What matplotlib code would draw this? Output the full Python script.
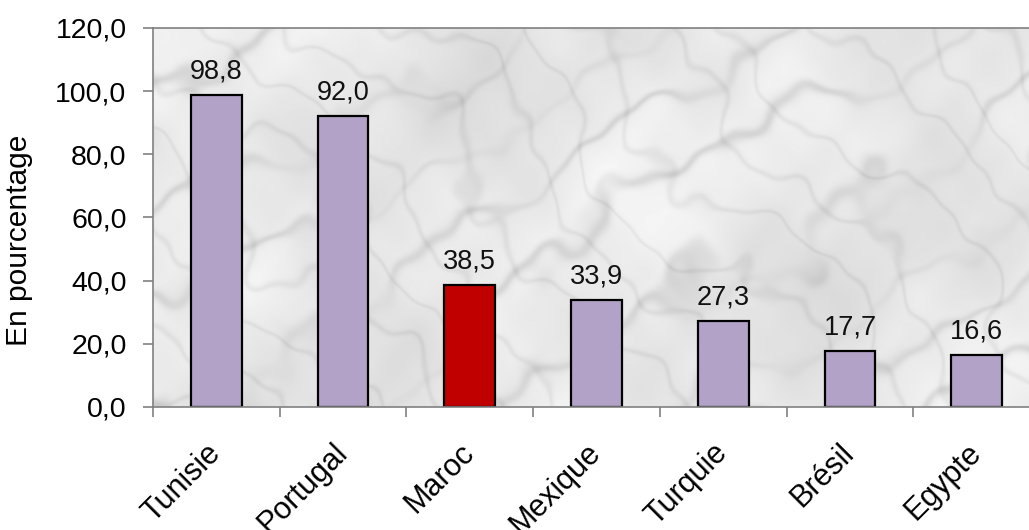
"""Bar chart of percentages per country on a marble-style plot background."""

import matplotlib
matplotlib.use("Agg")
import matplotlib.pyplot as plt
import numpy as np
from matplotlib.ticker import FuncFormatter

# Data
countries = ["Tunisie", "Portugal", "Maroc", "Mexique", "Turquie", "Brésil", "Egypte"]
values = [98.8, 92.0, 38.5, 33.9, 27.3, 17.7, 16.6]
highlight = "Maroc"

BAR_COLOR = "#b3a2c7"
HIGHLIGHT_COLOR = "#c00000"
SPINE_COLOR = "#808080"

plt.rcParams["font.family"] = ["Liberation Sans", "DejaVu Sans"]


def fr_number(v, _pos=None):
    return f"{v:.1f}".replace(".", ",")


def marble_texture(h, w):
    """Deterministic grey marble-like pattern built from layered sines."""
    yy, xx = np.mgrid[0:h, 0:w].astype(float)
    x = xx / w * 9.0
    y = yy / h * 4.0
    waves = [(1.3, 0.7, 0.0, 0.5), (0.6, 2.1, 1.3, 0.4), (2.9, -1.4, 2.2, 0.3),
             (4.7, 3.1, 0.7, 0.2), (-3.8, 5.2, 4.1, 0.15), (7.3, 6.1, 2.9, 0.1),
             (11.2, -8.3, 1.1, 0.07), (13.7, 9.9, 5.3, 0.05)]
    clouds = sum(a * np.sin(fx * x + fy * y + p) for fx, fy, p, a in waves)
    # streaky veins running lower-left to upper-right
    phase = 1.9 * (x + 1.6 * y) + 1.5 * clouds
    veins = np.exp(-(np.sin(phase) ** 2) / 0.06)
    phase2 = 3.7 * (x - 0.9 * y) + 2.0 * clouds
    veins2 = np.exp(-(np.sin(phase2) ** 2) / 0.03)
    img = (0.91 - 0.10 * veins * (0.6 + 0.4 * np.sin(2.3 * clouds))
           - 0.05 * veins2 + 0.04 * clouds)
    return np.clip(img, 0, 1)


fig = plt.figure(figsize=(10.29, 5.30), dpi=100)
# plot area runs slightly past the right edge of the figure
ax = fig.add_axes([0.1487, 0.2321, 0.862, 0.7151])

x = np.arange(len(countries))
colors = [HIGHLIGHT_COLOR if c == highlight else BAR_COLOR for c in countries]
ax.bar(x, values, width=0.4, color=colors, edgecolor="black", linewidth=1.6, zorder=3)

ax.set_xlim(-0.5, len(countries) - 0.5)
ax.set_ylim(0, 120)

# marble background
tex = marble_texture(360, 860)
ax.imshow(tex, cmap="gray", vmin=0, vmax=1, aspect="auto", interpolation="bilinear",
          extent=(-0.5, len(countries) - 0.5, 0, 120), zorder=0)

# value labels
for xi, v in zip(x, values):
    ax.text(xi, v + 3.3, fr_number(v), ha="center", va="bottom", fontsize=19.5,
            color="#111111", zorder=4)

ax.set_yticks(np.arange(0, 121, 20))
ax.yaxis.set_major_formatter(FuncFormatter(fr_number))
ax.tick_params(axis="y", direction="out", length=7, width=1.2, color=SPINE_COLOR,
               pad=12, labelsize=20.5)

# x ticks on category boundaries, labels centred under the bars
ax.set_xticks(np.arange(len(countries)) - 0.5)
ax.set_xticklabels([])
ax.tick_params(axis="x", direction="out", length=7, width=1.2, color=SPINE_COLOR)
ax.set_xticks(x, minor=True)
ax.set_xticklabels(countries, minor=True, rotation=45, ha="right", va="center",
                   rotation_mode="anchor", fontsize=22)
ax.tick_params(axis="x", which="minor", length=0, pad=30)

ax.set_ylabel("En pourcentage", fontsize=21.5)
ax.yaxis.set_label_coords(-0.135, 0.44)

for s in ax.spines.values():
    s.set_color(SPINE_COLOR)
    s.set_linewidth(1.2)
    s.set_zorder(5)

fig.savefig("out.png", dpi=100)
